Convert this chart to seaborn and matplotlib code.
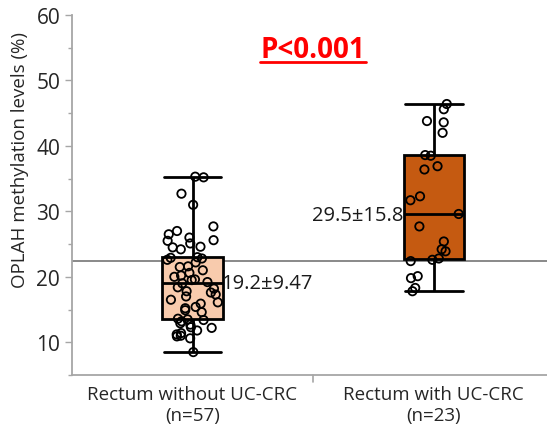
import numpy as np
import pandas as pd
import seaborn as sns
import matplotlib.pyplot as plt
from matplotlib.ticker import MultipleLocator

# valeurs
groups = ["Rectum without UC-CRC\n(n=57)", "Rectum with UC-CRC\n(n=23)"]
without_crc = [35.3, 35.2, 32.7, 31.0, 27.7, 25.6, 24.5,
               27.0, 26.5, 26.0, 25.5, 25.1, 24.6, 24.2, 22.8, 23.0, 22.6, 22.2,
               21.5, 21.6, 20.2, 21.0, 20.6, 20.0, 19.6, 19.2, 19.0, 18.4, 17.8,
               17.3, 16.1, 14.6, 18.2, 17.6, 17.0, 16.5, 15.9, 15.4, 14.9, 13.6, 13.5,
               12.3, 12.9, 13.2, 12.7, 12.2, 11.8, 11.4, 11.0, 10.6, 10.9, 11.2, 8.5,
               22.9, 19.5, 15.2, 13.4]
with_crc = [46.4, 45.6, 43.6, 43.8, 42.0, 38.6, 36.9, 36.4, 38.5,
            31.7, 32.3, 29.6, 27.7, 25.4, 24.2, 23.9, 22.6, 22.8, 22.4,
            19.8, 20.1, 18.3, 17.8]
box_colors = ["#F8CBAD", "#C55A11"]
mean_labels = ["19.2\u00b19.47", "29.5\u00b115.8"]
label_y = [19.0, 29.5]
ref_line = 22.4
p_text = "P<0.001"

df = pd.DataFrame({
    "group": [groups[0]] * len(without_crc) + [groups[1]] * len(with_crc),
    "value": without_crc + with_crc,
})

sns.set_style("white")
plt.rcParams["font.family"] = ["Open Sans", "DejaVu Sans"]
np.random.seed(3)

fig = plt.figure(figsize=(5.47, 4.35), dpi=100)
ax = fig.add_axes([72 / 547, 59 / 435, 475 / 547, 360 / 435])

ax.axhline(ref_line, color="#808080", lw=1.3, zorder=0)

sns.boxplot(data=df, x="group", y="value", hue="group", palette=box_colors,
            order=groups, width=0.25, showfliers=False, linecolor="black",
            linewidth=2, saturation=1, legend=False, ax=ax, zorder=2)
# caps aussi larges que la boite
for ln in ax.lines:
    xd = np.asarray(ln.get_xdata(), dtype=float)
    yd = np.asarray(ln.get_ydata(), dtype=float)
    if len(xd) == 2 and yd[0] == yd[1] and abs(xd[1] - xd[0]) < 0.2:
        c = xd.mean()
        ln.set_xdata([c - 0.12, c + 0.12])

sns.stripplot(data=df, x="group", y="value", order=groups, jitter=0.11,
              marker="o", size=6, linewidth=1.3, color="none", ax=ax, zorder=3)
for coll in ax.collections:
    coll.set_facecolor("none")
    coll.set_edgecolor("black")

ax.text(0.118, label_y[0], mean_labels[0], ha="left", va="center", fontsize=14.5,
        color="#1a1a1a")
ax.text(0.875, label_y[1], mean_labels[1], ha="right", va="center", fontsize=14.5,
        color="#1a1a1a")

pt = ax.text(0.5, 54.8, p_text, ha="center", va="center", fontsize=20,
             fontweight="bold", color="#FF0000")
fig.canvas.draw()
bb = pt.get_window_extent().transformed(ax.transData.inverted())
ax.plot([bb.x0, bb.x1], [bb.y0 - 0.3, bb.y0 - 0.3], color="#FF0000", lw=2)

ax.set_xlim(-0.5, 1.47)
ax.set_ylim(5, 60)
ax.yaxis.set_major_locator(MultipleLocator(10))
ax.yaxis.set_minor_locator(MultipleLocator(5))
ax.set_yticks([10, 20, 30, 40, 50, 60])
ax.set_ylabel("OPLAH methylation levels (%)", fontsize=13.5, color="#262626")
ax.yaxis.set_label_coords(-0.09, 0.6)
ax.set_xlabel("")
ax.tick_params(axis="y", which="major", length=5, width=1, color="#A6A6A6",
               labelsize=15, labelcolor="#262626", left=True)
ax.tick_params(axis="y", which="minor", length=3, width=1, color="#A6A6A6", left=True)
ax.tick_params(axis="x", length=0, labelsize=13.5, labelcolor="#262626", pad=7)
# petit trait separateur entre les groupes
ax.plot([0.5, 0.5], [5, 4.0], color="#A6A6A6", lw=1.2, clip_on=False)

for side in ["top", "right"]:
    ax.spines[side].set_visible(False)
for side in ["left", "bottom"]:
    ax.spines[side].set_color("#A6A6A6")
    ax.spines[side].set_linewidth(1.3)

fig.savefig("out.png", dpi=100)
